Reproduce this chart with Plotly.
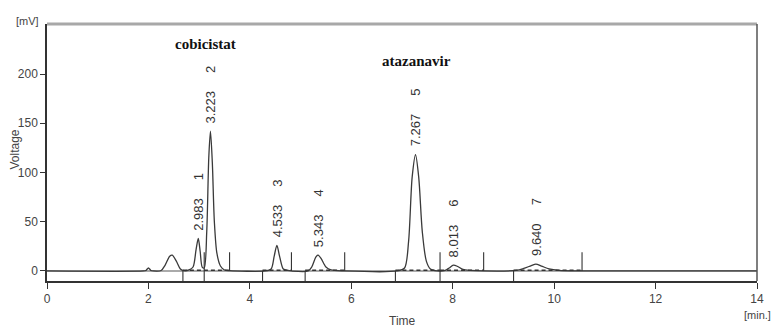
import plotly.graph_objects as go

# ---- data ----
signal_time = [0, 1.9, 1.95, 2.0, 2.05, 2.1, 2.25, 2.33, 2.42, 2.47, 2.55, 2.63, 2.7, 2.8, 2.88, 2.94,
               2.983, 3.02, 3.06, 3.1, 3.15, 3.19, 3.223, 3.26, 3.3, 3.35, 3.42, 3.5, 3.6,
               4.3, 4.42, 4.48, 4.533, 4.59, 4.66, 4.75, 4.82,
               5.15, 5.22, 5.3, 5.343, 5.4, 5.5, 5.6, 5.87,
               6.9, 7.05, 7.13, 7.2, 7.267, 7.33, 7.4, 7.48, 7.56, 7.7,
               7.85, 7.93, 8.013, 8.1, 8.2, 8.35, 8.61,
               9.25, 9.4, 9.55, 9.64, 9.75, 9.9, 10.1, 10.55, 14]
signal_mv = [0, 0, 0.5, 3, 0.5, 0, 0.5, 6, 15, 16, 10, 2, 0.3, 1, 4, 22,
             33, 20, 4, 3, 40, 115, 142, 110, 50, 18, 5, 1, 0.3,
             0, 2, 15, 26, 14, 2, 0.5, 0,
             0, 4, 14, 16, 13, 4, 1, 0,
             0, 3, 30, 95, 118, 95, 40, 10, 2, 0,
             0.5, 3, 6, 4.5, 1.5, 0.5, 0,
             0.5, 2.5, 5.5, 7, 5, 2, 0.5, 0, 0]

peak_no = [1, 2, 3, 4, 5, 6, 7]
peak_rt = [2.983, 3.223, 4.533, 5.343, 7.267, 8.013, 9.640]
peak_rt_label = ["2.983", "3.223", "4.533", "5.343", "7.267", "8.013", "9.640"]
peak_height = [33, 142, 26, 16, 118, 6, 7]

baseline_start = [2.68, 4.25, 5.09, 6.87, 7.75, 9.2]
baseline_end = [3.6, 4.82, 5.87, 7.75, 8.61, 10.55]
down_markers = [2.68, 3.1, 4.25, 5.09, 6.87, 7.75, 9.2]
up_markers = [3.1, 3.6, 4.82, 5.87, 7.75, 8.61, 10.55]

compounds = ["cobicistat", "atazanavir"]
compound_time = [3.13, 7.28]
compound_mv = [230, 213]

x_ticks = [0, 2, 4, 6, 8, 10, 12, 14]
y_ticks = [0, 50, 100, 150, 200]

Y_MIN, Y_MAX = -10.2, 250.8
UP_H = 19

fig = go.Figure()

# signal
fig.add_trace(go.Scatter(x=signal_time, y=signal_mv, mode="lines",
                         line=dict(color="#3a3a3a", width=1.3, shape="spline", smoothing=0.8),
                         showlegend=False))

# dashed integration baselines
bx, by = [], []
for s, e in zip(baseline_start, baseline_end):
    bx += [s, e, None]
    by += [0.6, 0.6, None]
fig.add_trace(go.Scatter(x=bx, y=by, mode="lines",
                         line=dict(color="#333", width=1.5, dash="4px,3px"),
                         hoverinfo="skip", showlegend=False))

# integration markers
mx, my = [], []
for t in down_markers:
    mx += [t, t, None]
    my += [Y_MIN, 0, None]
for t in up_markers:
    mx += [t, t, None]
    my += [0, UP_H, None]
fig.add_trace(go.Scatter(x=mx, y=my, mode="lines",
                         line=dict(color="#333", width=1.1),
                         hoverinfo="skip", showlegend=False))

annotations = []
nb = "\u00a0" * 5
for n, rt, lab, h in zip(peak_no, peak_rt, peak_rt_label, peak_height):
    annotations.append(dict(x=rt, y=h, xref="x", yref="y", text=f"{lab}{nb}{n}",
                            showarrow=False, textangle=-90, yanchor="bottom", xanchor="center",
                            yshift=6, font=dict(family="Liberation Sans, Arial", size=13, color="#333")))
for name, t, v in zip(compounds, compound_time, compound_mv):
    annotations.append(dict(x=t, y=v, xref="x", yref="y", text=f"<b>{name}</b>", showarrow=False,
                            font=dict(family="Liberation Serif, Times New Roman", size=15, color="#111")))

annotations += [
    dict(x=0, y=1, xref="paper", yref="paper", text="[mV]", showarrow=False, xanchor="right",
         yanchor="middle", xshift=-6, yshift=3, font=dict(family="Liberation Sans, Arial", size=11, color="#444")),
    dict(x=14, y=0, xref="x", yref="paper", text="[min.]", showarrow=False, xanchor="center",
         yanchor="middle", yshift=-34, font=dict(family="Liberation Sans, Arial", size=11, color="#444")),
    dict(x=7, y=0, xref="x", yref="paper", text="Time", showarrow=False, xanchor="center",
         yanchor="middle", yshift=-40, font=dict(family="Liberation Sans, Arial", size=12, color="#444")),
    dict(x=0, y=0.5, xref="paper", yref="paper", text="Voltage", showarrow=False, textangle=-90,
         xanchor="center", yanchor="middle", xshift=-33, yshift=3,
         font=dict(family="Liberation Sans, Arial", size=12, color="#444")),
]

fig.update_layout(
    width=776, height=327,
    margin=dict(l=47, r=14, t=24, b=46),
    paper_bgcolor="white", plot_bgcolor="white",
    annotations=annotations,
    shapes=[
        dict(type="line", xref="paper", yref="paper", x0=0, x1=1, y0=1, y1=1,
             line=dict(color="#a8a8a8", width=3)),
        dict(type="line", xref="paper", yref="paper", x0=1, x1=1, y0=0, y1=1,
             line=dict(color="#555", width=1.5)),
        dict(type="line", xref="paper", yref="y", x0=0, x1=1, y0=0, y1=0,
             line=dict(color="#aaa", width=2), layer="below"),
    ],
    xaxis=dict(range=[0, 14], tickvals=x_ticks, ticks="outside", ticklen=6, tickcolor="#333",
               showline=True, linecolor="#333", linewidth=1.5, showgrid=False, zeroline=False,
               tickfont=dict(family="Liberation Sans, Arial", size=12, color="#444")),
    yaxis=dict(range=[Y_MIN, Y_MAX], tickvals=y_ticks, ticks="outside", ticklen=5, tickcolor="#333",
               showline=True, linecolor="#333", linewidth=1.5, showgrid=False, zeroline=False,
               tickfont=dict(family="Liberation Sans, Arial", size=12, color="#444")),
)

fig.write_html("out.html", config={"displayModeBar": False},
               post_script="document.body.style.margin='0';document.body.style.overflow='hidden';")
